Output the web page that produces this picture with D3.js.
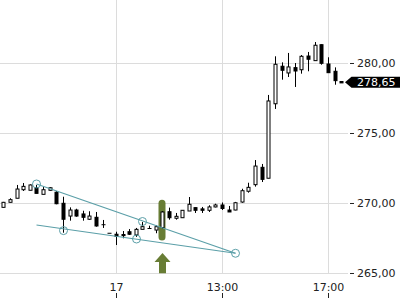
<!DOCTYPE html>
<html lang="de">
<head>
<meta charset="UTF-8">
<title>Kursverlauf Candlestick</title>
<script src="https://d3js.org/d3.v7.min.js"></script>
<style>
    body { margin: 0; background: #fff; }
    svg { display: block; font-family: "DejaVu Sans", sans-serif; }
    .grid line { stroke: #dcdcdc; stroke-width: 1px; }
    .trend { stroke: #5b9fa8; stroke-width: 1.2px; fill: none; }
    .pivot { stroke: #5b9fa8; stroke-width: 1px; fill: none; }
    .wick { stroke: #000; stroke-width: 1px; }
    .ylab, .xlab { font-size: 11px; fill: #222; }
</style>
</head>
<body>
<svg width="400" height="300"></svg>
<script>
    // 15-Minuten-Kerzen, Vortag ab 13:30 bis Schlussauktion, dann 17. ganzer Tag
    const times = [
        "16 13:30", "16 13:45", "16 14:00", "16 14:15", "16 14:30", "16 14:45", "16 15:00", "16 15:15",
        "16 15:30", "16 15:45", "16 16:00", "16 16:15", "16 16:30", "16 16:45", "16 17:00", "16 17:15",
        "16 17:30",
        "17 09:00", "17 09:15", "17 09:30", "17 09:45", "17 10:00", "17 10:15", "17 10:30", "17 10:45",
        "17 11:00", "17 11:15", "17 11:30", "17 11:45", "17 12:00", "17 12:15", "17 12:30", "17 12:45",
        "17 13:00", "17 13:15", "17 13:30", "17 13:45", "17 14:00", "17 14:15", "17 14:30", "17 14:45",
        "17 15:00", "17 15:15", "17 15:30", "17 15:45", "17 16:00", "17 16:15", "17 16:30", "17 16:45",
        "17 17:00", "17 17:15", "17 17:30"
    ];
    const opens = [
        269.71, 270.07, 270.36, 270.97, 270.93, 271.11, 270.64, 270.93, 270.79, 270.00,
        269.09, 269.52, 269.24, 268.86, 269.00, 268.47, 267.86, 267.79, 267.77, 267.97,
        267.74, 268.14, 268.20, 268.09, 268.27, 269.40, 268.93, 268.97, 269.45, 269.69,
        269.60, 269.50, 269.74, 269.88, 269.52, 269.52, 270.09, 270.86, 271.33, 272.57,
        271.79, 277.11, 279.79, 279.31, 279.69, 279.54, 280.52, 280.19, 281.33, 279.95,
        279.43, 278.70
    ];
    const highs = [
        270.10, 270.36, 271.31, 271.45, 271.35, 271.31, 271.16, 271.15, 270.88, 270.47,
        269.71, 269.61, 269.47, 269.43, 269.38, 268.81, 267.86, 267.97, 268.02, 268.16,
        268.24, 268.66, 268.40, 268.43, 269.45, 269.69, 269.31, 269.52, 270.45, 269.71,
        269.74, 269.86, 269.97, 270.06, 269.81, 270.10, 271.04, 271.47, 273.09, 272.81,
        277.74, 280.50, 280.07, 280.74, 280.02, 280.59, 280.81, 281.52, 281.35, 280.43,
        279.71, 278.70
    ];
    const lows = [
        269.69, 270.07, 270.36, 270.88, 270.93, 270.71, 270.64, 270.90, 269.93, 267.90,
        268.76, 269.04, 268.76, 268.81, 268.33, 268.24, 267.86, 267.02, 267.50, 267.74,
        267.60, 268.14, 268.18, 267.86, 268.20, 268.83, 268.83, 268.95, 269.45, 269.31,
        269.31, 269.38, 269.71, 269.52, 269.38, 269.50, 270.04, 270.76, 271.19, 271.52,
        271.79, 276.74, 278.83, 279.02, 278.31, 279.26, 279.43, 280.19, 279.90, 279.33,
        278.47, 278.60
    ];
    const closes = [
        270.07, 270.26, 271.02, 271.21, 271.31, 270.71, 270.97, 271.11, 269.97, 268.86,
        269.52, 269.09, 269.00, 269.09, 268.38, 268.47, 267.86, 267.64, 267.69, 267.79,
        268.14, 268.33, 268.20, 268.33, 269.38, 268.97, 269.07, 269.50, 269.93, 269.50,
        269.50, 269.74, 269.88, 269.63, 269.38, 270.04, 270.90, 271.14, 272.66, 271.71,
        277.31, 279.93, 279.50, 279.74, 279.45, 280.50, 280.29, 281.29, 280.00, 279.33,
        278.76, 278.60
    ];
    const lastPrice = 278.65;

    const yTicks = [265, 270, 275, 280];
    const xTickTimes = ["17 09:00", "17 13:00", "17 17:00"];
    const xTickLabels = ["17", "13:00", "17:00"];

    // Trendlinien (Start, Ende) und markierte Punkte
    const upperLine = [["16 14:45", 271.38], ["17 13:30", 266.43]];
    const lowerLine = [["16 14:45", 268.45], ["17 13:30", 266.43]];
    const pivots = [
        ["16 14:45", 271.38], ["16 15:45", 268.05], ["17 09:45", 267.45],
        ["17 10:00", 268.70], ["17 13:30", 266.43]
    ];

    // Signal
    const signalTime = "17 10:45";
    const signalBar = [270.25, 267.35];
    const signalArrow = [266.45, 265.0];

    const deFormat = d3.formatLocale({ decimal: ",", thousands: ".", grouping: [3], currency: ["", " €"] }).format(".2f");

    const svg = d3.select("svg");
    const plotRight = 348, plotBottom = 274;

    const x = d3.scaleBand().domain(times).range([0, times.length * 6.625]);
    const cx = t => Math.round(x(t) + x.bandwidth() / 2) + 0.5;
    const y = d3.scaleLinear().domain([265, 280]).range([273.3, 63.3]);

    // Gitter
    const grid = svg.append("g").attr("class", "grid");
    grid.selectAll(".h").data(yTicks).enter().append("line")
        .attr("x1", 0).attr("x2", plotRight)
        .attr("y1", d => Math.round(y(d)) + 0.5).attr("y2", d => Math.round(y(d)) + 0.5);
    grid.selectAll(".v").data(xTickTimes).enter().append("line")
        .attr("x1", d => cx(d)).attr("x2", d => cx(d))
        .attr("y1", 0).attr("y2", plotBottom);

    // Signalbalken hinter den Kerzen
    const green = "#687d35";
    svg.append("rect")
        .attr("x", cx(signalTime) - 4).attr("width", 7)
        .attr("y", y(signalBar[0])).attr("height", y(signalBar[1]) - y(signalBar[0]))
        .attr("rx", 3.5).attr("fill", green);

    const ax = cx(signalTime), aTop = y(signalArrow[0]), aBot = y(signalArrow[1]);
    svg.append("path")
        .attr("d", `M${ax},${aTop} L${ax + 8},${aTop + 9} L${ax + 3.5},${aTop + 9} L${ax + 3.5},${aBot}
                    L${ax - 3.5},${aBot} L${ax - 3.5},${aTop + 9} L${ax - 8},${aTop + 9} Z`)
        .attr("fill", green);

    // Kerzen
    const data = times.map((t, i) => ({ t, o: opens[i], h: highs[i], l: lows[i], c: closes[i] }));
    const candles = svg.append("g").selectAll("g").data(data).enter().append("g");

    candles.append("line").attr("class", "wick")
        .attr("x1", d => cx(d.t)).attr("x2", d => cx(d.t))
        .attr("y1", d => y(d.h)).attr("y2", d => y(d.l));

    candles.append("rect")
        .attr("x", d => cx(d.t) - 1.5).attr("width", 3)
        .attr("y", d => Math.min(y(d.o), y(d.c)))
        .attr("height", d => Math.max(Math.abs(y(d.o) - y(d.c)), 0.01))
        .attr("fill", d => d.c > d.o ? "#fff" : "#000")
        .attr("stroke", "#000").attr("stroke-width", 1);

    // Trendlinien
    const line = d3.line().x(d => cx(d[0])).y(d => y(d[1]));
    svg.append("path").attr("class", "trend").attr("d", line(upperLine));
    svg.append("path").attr("class", "trend").attr("d", line(lowerLine));
    svg.selectAll(".pivot").data(pivots).enter().append("circle")
        .attr("class", "pivot")
        .attr("cx", d => cx(d[0])).attr("cy", d => y(d[1])).attr("r", 4);

    // rechte Achse
    const yAxis = svg.append("g");
    yAxis.selectAll("line").data(yTicks).enter().append("line")
        .attr("x1", 350).attr("x2", 354)
        .attr("y1", d => Math.round(y(d)) + 0.5).attr("y2", d => Math.round(y(d)) + 0.5)
        .attr("stroke", "#222");
    yAxis.selectAll("text").data(yTicks).enter().append("text")
        .attr("class", "ylab").attr("x", 357).attr("y", d => y(d)).attr("dy", "0.36em")
        .text(d => deFormat(d));

    // Kursmarke
    const py = y(lastPrice);
    svg.append("path")
        .attr("d", `M345,${py} L351.5,${py - 5.5} L400,${py - 5.5} L400,${py + 5.5} L351.5,${py + 5.5} Z`)
        .attr("fill", "#000");
    svg.append("text").attr("x", 357).attr("y", py).attr("dy", "0.36em")
        .attr("font-size", "11px").attr("fill", "#fff").text(deFormat(lastPrice));

    // untere Achse
    const xAxis = svg.append("g");
    xAxis.selectAll("line").data(xTickTimes).enter().append("line")
        .attr("x1", d => cx(d)).attr("x2", d => cx(d))
        .attr("y1", 293).attr("y2", 298).attr("stroke", "#222");
    xAxis.selectAll("text").data(xTickTimes).enter().append("text")
        .attr("class", "xlab").attr("text-anchor", "middle")
        .attr("x", d => cx(d)).attr("y", 291)
        .text((d, i) => xTickLabels[i]);
</script>
</body>
</html>
